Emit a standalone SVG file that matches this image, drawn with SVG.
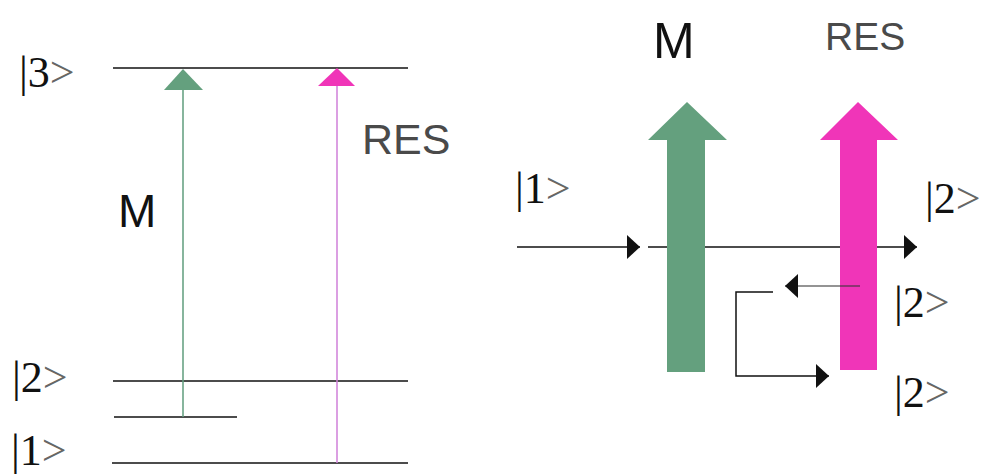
<svg xmlns="http://www.w3.org/2000/svg" width="986" height="475" viewBox="0 0 986 475">
<style>
.lvl{stroke:#111;stroke-width:1.5;fill:none}
.ket{font-family:"Liberation Serif","Times New Roman",serif;font-size:44px;fill:#111}
.gt{fill:#666}
.lab{font-family:"Liberation Sans",Arial,sans-serif;fill:#111}
.res{fill:#4a4a4a}
.green{fill:#64a07e}
.pink{fill:#f035b8}
.conn{stroke:#111;stroke-width:1.5;fill:none}
</style>
<defs>
<marker id="ah" markerUnits="userSpaceOnUse" markerWidth="14" markerHeight="24" refX="13" refY="12" orient="auto">
<path d="M0,0 L13,12 L0,24 z" fill="#111"/>
</marker>
</defs>
<rect width="986" height="475" fill="#fff"/>
<g id="levels">
<line class="lvl" x1="113" y1="68" x2="408" y2="68"/>
<line class="lvl" x1="113" y1="381" x2="408" y2="381"/>
<line class="lvl" x1="114" y1="417" x2="237" y2="417"/>
<line class="lvl" x1="112" y1="463" x2="408" y2="463"/>
</g>
<g id="left-M-transition">
<line x1="183" y1="417" x2="183" y2="88" stroke="#5f9c7c" stroke-width="1.5"/>
<polygon class="green" points="183,69 203,90 164,90"/>
</g>
<g id="left-RES-transition">
<line x1="337" y1="463" x2="337" y2="84" stroke="#cf7fd8" stroke-width="1.5"/>
<polygon class="pink" points="337,68 355,86 318,86"/>
</g>
<g id="left-labels">
<text class="ket" x="19" y="87">|3<tspan class="gt">&gt;</tspan></text>
<text class="ket" x="12" y="392">|2<tspan class="gt">&gt;</tspan></text>
<text class="ket" x="11" y="465">|1<tspan class="gt">&gt;</tspan></text>
<text class="lab" x="118" y="227" font-size="46">M</text>
<text class="lab res" x="362" y="154" font-size="43">RES</text>
</g>
<g id="connectors">
<line class="conn" x1="517" y1="247" x2="640" y2="247" marker-end="url(#ah)"/>
<line class="conn" x1="648" y1="247" x2="917" y2="247" marker-end="url(#ah)"/>
</g>
<g id="right-M-arrow">
<polygon class="green" points="687,102 727,140 705,140 705,372 667,372 667,140 648,140"/>
</g>
<g id="right-RES-arrow">
<polygon class="pink" points="858,102 898,140 877,140 877,370 840,370 840,140 820,140"/>
</g>
<g id="feedback-connectors">
<line x1="860" y1="286" x2="785" y2="286" stroke="#333" stroke-opacity="0.7" stroke-width="1.5" marker-end="url(#ah)"/>
<polyline class="conn" points="773,292 736,292 736,376 829,376" marker-end="url(#ah)"/>
</g>
<g id="right-labels">
<text class="lab" x="653" y="58" font-size="50">M</text>
<text class="lab res" x="825" y="50" font-size="39">RES</text>
<text class="ket" x="515" y="203">|1<tspan class="gt">&gt;</tspan></text>
<text class="ket" x="925" y="213">|2<tspan class="gt">&gt;</tspan></text>
<text class="ket" x="894" y="317">|2<tspan class="gt">&gt;</tspan></text>
<text class="ket" x="894" y="407">|2<tspan class="gt">&gt;</tspan></text>
</g>
</svg>
